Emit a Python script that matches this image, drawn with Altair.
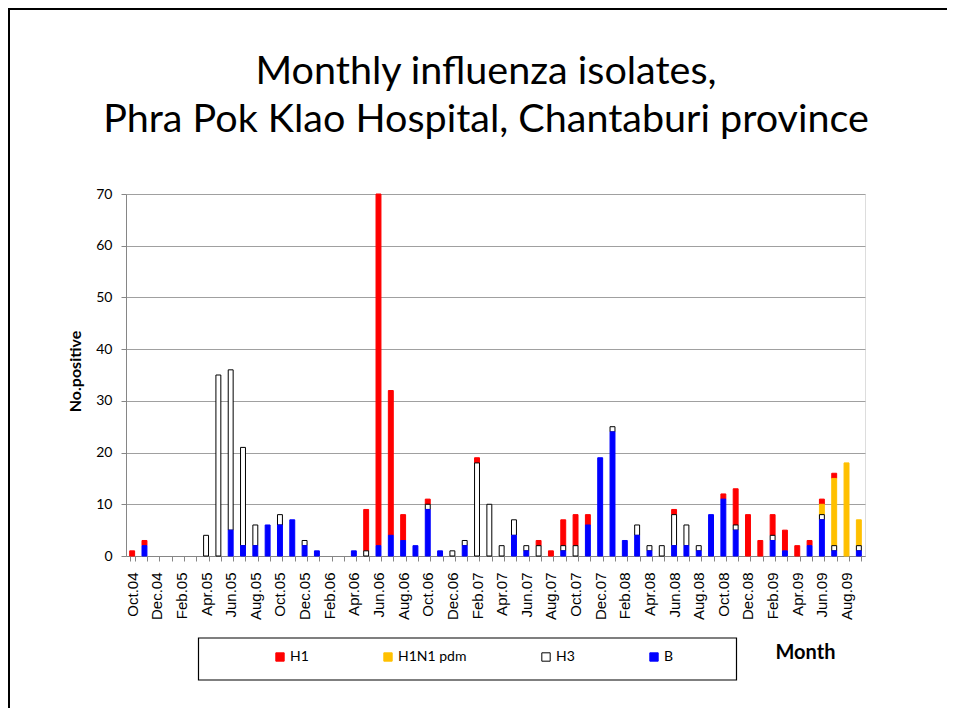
import altair as alt
import pandas as pd

months = [
    "Oct.04", "Nov.04", "Dec.04",
    "Jan.05", "Feb.05", "Mar.05", "Apr.05", "May.05", "Jun.05", "Jul.05", "Aug.05", "Sep.05", "Oct.05", "Nov.05", "Dec.05",
    "Jan.06", "Feb.06", "Mar.06", "Apr.06", "May.06", "Jun.06", "Jul.06", "Aug.06", "Sep.06", "Oct.06", "Nov.06", "Dec.06",
    "Jan.07", "Feb.07", "Mar.07", "Apr.07", "May.07", "Jun.07", "Jul.07", "Aug.07", "Sep.07", "Oct.07", "Nov.07", "Dec.07",
    "Jan.08", "Feb.08", "Mar.08", "Apr.08", "May.08", "Jun.08", "Jul.08", "Aug.08", "Sep.08", "Oct.08", "Nov.08", "Dec.08",
    "Jan.09", "Feb.09", "Mar.09", "Apr.09", "May.09", "Jun.09", "Jul.09", "Aug.09", "Sep.09",
]

B = [0, 2, 0,
     0, 0, 0, 0, 0, 5, 2, 2, 6, 6, 7, 2,
     1, 0, 0, 1, 0, 2, 4, 3, 2, 9, 1, 0,
     2, 0, 0, 0, 4, 1, 0, 0, 1, 0, 6, 19,
     24, 3, 4, 1, 0, 2, 2, 1, 8, 11, 5, 0,
     0, 3, 1, 0, 2, 7, 1, 0, 1]

H3 = [0, 0, 0,
      0, 0, 0, 4, 35, 31, 19, 4, 0, 2, 0, 1,
      0, 0, 0, 0, 1, 0, 0, 0, 0, 1, 0, 1,
      1, 18, 10, 2, 3, 1, 2, 0, 1, 2, 0, 0,
      1, 0, 2, 1, 2, 6, 4, 1, 0, 0, 1, 0,
      0, 1, 0, 0, 0, 1, 1, 0, 1]

H1N1_pdm = [0, 0, 0,
            0, 0, 0, 0, 0, 0, 0, 0, 0, 0, 0, 0,
            0, 0, 0, 0, 0, 0, 0, 0, 0, 0, 0, 0,
            0, 0, 0, 0, 0, 0, 0, 0, 0, 0, 0, 0,
            0, 0, 0, 0, 0, 0, 0, 0, 0, 0, 0, 0,
            0, 0, 0, 0, 0, 2, 13, 18, 5]

H1 = [1, 1, 0,
      0, 0, 0, 0, 0, 0, 0, 0, 0, 0, 0, 0,
      0, 0, 0, 0, 8, 68, 28, 5, 0, 1, 0, 0,
      0, 1, 0, 0, 0, 0, 1, 1, 5, 6, 2, 0,
      0, 0, 0, 0, 0, 1, 0, 0, 0, 1, 7, 8,
      3, 4, 4, 2, 1, 1, 1, 0, 0]

types = ["H1", "H1N1 pdm", "H3", "B"]
fill_colors = ["#FF0000", "#FFC000", "#FFFFFF", "#0000FF"]
stroke_colors = ["#FF0000", "#FFC000", "#000000", "#0000FF"]
stack_order = {"B": 0, "H3": 1, "H1N1 pdm": 2, "H1": 3}
series = {"H1": H1, "H1N1 pdm": H1N1_pdm, "H3": H3, "B": B}

title_lines = ["Monthly influenza isolates,", "Phra Pok Klao Hospital, Chantaburi province"]

rows = []
for t in types:
    for m, v in zip(months, series[t]):
        rows.append({"month": m, "type": t, "value": v, "ord": stack_order[t]})
df = pd.DataFrame(rows)

W, H = 739, 362
PL, PT = 118, 186

legend_def = alt.Legend(
    title=None, orient="none", legendX=147, legendY=456, direction="horizontal",
    columns=4, columnPadding=72, symbolType="square", symbolSize=70,
    symbolStrokeWidth=1, labelFont="Lato", labelFontSize=14, labelColor="black",
    labelOffset=3, padding=0,
)

label_expr = ("indexof(['Oct','Dec','Feb','Apr','Jun','Aug'], substring(datum.label,0,3)) >= 0"
              " ? datum.label : ''")

bars = alt.Chart(df).transform_filter("datum.value > 0").mark_bar(strokeWidth=1).encode(
    x=alt.X("month:N", sort=months,
            scale=alt.Scale(domain=months, paddingInner=0.6, paddingOuter=0.3),
            axis=alt.Axis(title="Month", labelExpr=label_expr, labelAngle=270,
                          labelFont="Liberation Sans", labelFontSize=15, labelColor="black",
                          labelPadding=11, labelOverlap=False, tickBand="extent", tickSize=5,
                          tickColor="#868686", domainColor="#868686", grid=False,
                          titleFont="Lato", titleFontSize=20, titleFontWeight="bold",
                          titleColor="black", titleX=679, titleY=96, titleAlign="center",
                          titleBaseline="middle")),
    y=alt.Y("sum(value):Q", stack="zero",
            scale=alt.Scale(domain=[0, 70], nice=False),
            axis=alt.Axis(title="No.positive", values=list(range(0, 71, 10)),
                          labelFont="Lato", labelFontSize=14, labelColor="black",
                          labelPadding=9, tickSize=5, tickColor="#868686",
                          domainColor="#868686", gridColor="#A0A0A0",
                          titleFont="Lato", titleFontSize=16, titleFontWeight="bold",
                          titleColor="black", titleX=-51, titleY=177, titleAngle=270,
                          titleBaseline="middle", titleAlign="center")),
    color=alt.Color("type:N", scale=alt.Scale(domain=types, range=fill_colors), legend=legend_def),
    stroke=alt.Stroke("type:N", scale=alt.Scale(domain=types, range=stroke_colors), legend=legend_def),
    order=alt.Order("ord:Q", sort="ascending"),
)

one = pd.DataFrame({"k": [0]})
legend_box = alt.Chart(one).mark_rect(filled=False, stroke="black", strokeWidth=1.2).encode(
    x=alt.value(72.5), x2=alt.value(610.5), y=alt.value(444), y2=alt.value(486)
)
frame_left = alt.Chart(one).mark_rule(color="black", strokeWidth=2).encode(
    x=alt.value(-117), y=alt.value(-186), y2=alt.value(520)
)
frame_top = alt.Chart(one).mark_rule(color="black", strokeWidth=2).encode(
    x=alt.value(-118), x2=alt.value(821), y=alt.value(-185)
)
title1 = alt.Chart(one).mark_text(
    font="Lato", fontSize=39.5, color="black", align="center", baseline="alphabetic"
).encode(x=alt.value(360), y=alt.value(-110), text=alt.value(title_lines[0]))
title2 = alt.Chart(one).mark_text(
    font="Lato", fontSize=39.5, color="black", align="center", baseline="alphabetic"
).encode(x=alt.value(360), y=alt.value(-62), text=alt.value(title_lines[1]))

chart = alt.layer(bars, legend_box, frame_left, frame_top, title1, title2).properties(
    width=W, height=H,
    padding={"left": PL, "top": PT, "right": 82, "bottom": 152},
    autosize=alt.AutoSizeParams(type="none"),
).configure_view(stroke="#7F7F7F", strokeWidth=1).configure(background="white")

chart.save("out.html", embed_options={"renderer": "svg", "actions": False})
